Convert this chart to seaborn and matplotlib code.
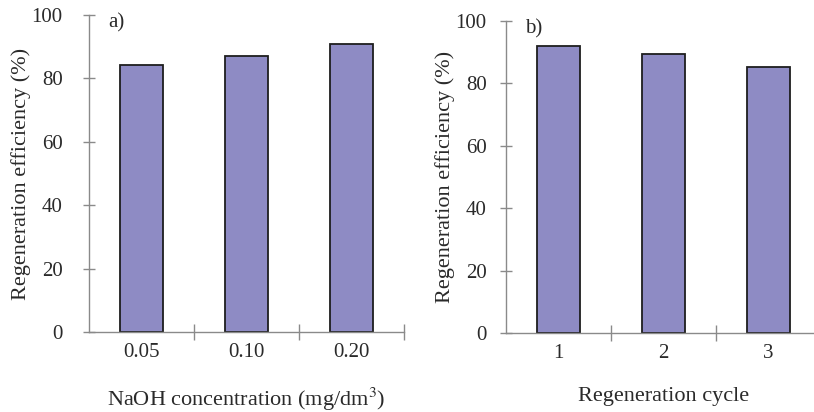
import matplotlib
matplotlib.use("Agg")
import matplotlib.pyplot as plt
import seaborn as sns
import pandas as pd

# Data
naoh_labels = ["0.05", "0.10", "0.20"]
naoh_eff = [84.2, 87.2, 91.0]
cycle_labels = ["1", "2", "3"]
cycle_eff = [91.8, 89.3, 85.3]

sns.set_theme(style="white")
plt.rcParams["font.family"] = ["Liberation Serif", "DejaVu Serif"]
plt.rcParams["mathtext.fontset"] = "stix"

BAR = "#8e8bc4"
AX = "#8a8a8a"
TXT = "#2a2a2a"

fig = plt.figure(figsize=(8.14, 4.12), dpi=100)
ax1 = fig.add_axes([89/814, 1-332/412, 315/814, 317/412])
ax2 = fig.add_axes([506/814, 1-333/412, 315/814, 312.3/412])

def style(ax, labels, values, xlabel, tag, ypad):
    df = pd.DataFrame({"cat": labels, "val": values})
    sns.barplot(data=df, x="cat", y="val", ax=ax, color=BAR, saturation=1,
                width=0.41, edgecolor="#1e1e1e", linewidth=1.3)
    ax.set_xlim(-0.5, 2.5)
    ax.set_ylim(0, 100)
    ax.set_yticks([0, 20, 40, 60, 80, 100])
    for s in ["top", "right"]:
        ax.spines[s].set_visible(False)
    for s in ["left", "bottom"]:
        ax.spines[s].set_color(AX)
        ax.spines[s].set_linewidth(1.0)
    # category boundary ticks on x
    ax.set_xticks([0.5, 1.5, 2.5], minor=False)
    ax.set_xticklabels([])
    ax.set_xticks([0, 1, 2], minor=True)
    ax.set_xticklabels(labels, minor=True)
    ax.tick_params(axis="x", which="major", direction="inout", length=11,
                   width=1.0, color=AX, bottom=True)
    ax.tick_params(axis="x", which="minor", length=0, pad=8,
                   labelsize=15, labelcolor=TXT)
    ax.tick_params(axis="y", direction="inout", length=8, width=1.0,
                   color=AX, left=True, labelsize=15, labelcolor=TXT, pad=ypad)
    ax.set_xlabel(xlabel, fontsize=16, color=TXT, labelpad=17)
    ax.set_ylabel("Regeneration efficiency (%)", fontsize=16, color=TXT,
                  labelpad=0)
    ax.text(0.06, 0.975, tag, transform=ax.transAxes, fontsize=15,
            color=TXT, va="center", ha="left")
    ax.set_facecolor("white")

style(ax1, naoh_labels, naoh_eff, "NaOH concentration (mg/dm$^{3}$)", "a)", 15)
style(ax2, cycle_labels, cycle_eff, "Regeneration cycle", "b)", 10)

fig.savefig("out.png", dpi=100, facecolor="white")
